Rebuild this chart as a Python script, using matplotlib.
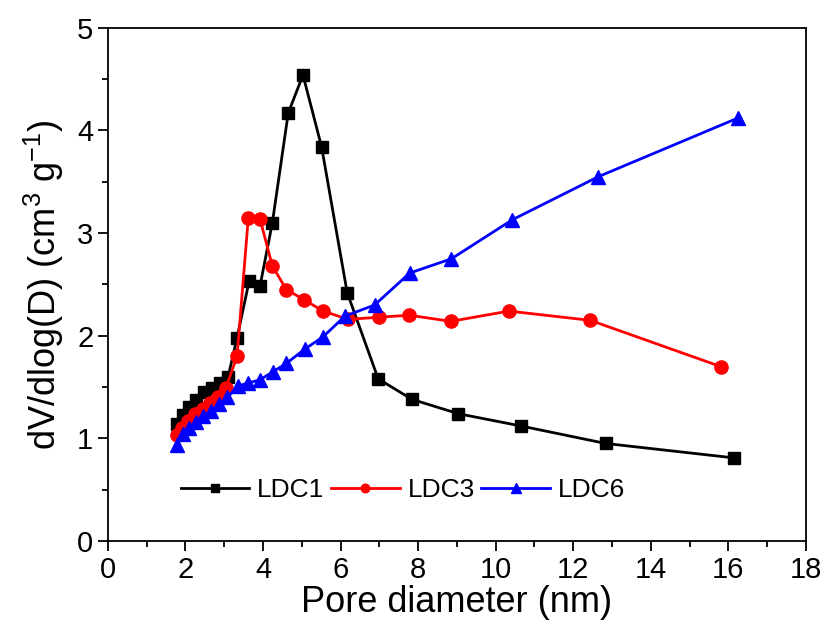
#!/usr/bin/env python

import matplotlib
matplotlib.use('Agg')
import matplotlib.pyplot as plt
from matplotlib.ticker import MultipleLocator

plt.rcParams['font.family'] = ['Liberation Sans', 'DejaVu Sans']
plt.rcParams['mathtext.fontset'] = 'custom'
plt.rcParams['mathtext.rm'] = 'Liberation Sans'

# LDC1 (black squares)
ldc1_x = [1.78, 1.93, 2.09, 2.28, 2.47, 2.68, 2.89, 3.10, 3.33, 3.64, 3.92, 4.24,
          4.65, 5.03, 5.51, 6.17, 6.97, 7.84, 9.04, 10.66, 12.84, 16.14]
ldc1_y = [1.14, 1.23, 1.31, 1.37, 1.45, 1.49, 1.54, 1.60, 1.98, 2.53, 2.48, 3.10,
          4.17, 4.54, 3.84, 2.42, 1.58, 1.38, 1.24, 1.12, 0.95, 0.81]

# LDC3 (red circles)
ldc3_x = [1.77, 1.92, 2.07, 2.25, 2.44, 2.63, 2.83, 3.04, 3.33, 3.62, 3.92, 4.24,
          4.60, 5.06, 5.55, 6.19, 7.00, 7.77, 8.84, 10.34, 12.44, 15.80]
ldc3_y = [1.03, 1.10, 1.17, 1.24, 1.29, 1.34, 1.40, 1.49, 1.80, 3.15, 3.14, 2.68,
          2.45, 2.35, 2.24, 2.16, 2.18, 2.20, 2.14, 2.24, 2.15, 1.70]

# LDC6 (blue triangles)
ldc6_x = [1.77, 1.93, 2.09, 2.27, 2.46, 2.66, 2.87, 3.08, 3.36, 3.62, 3.92, 4.26,
          4.60, 5.08, 5.55, 6.11, 6.88, 7.78, 8.86, 10.43, 12.65, 16.24]
ldc6_y = [0.94, 1.04, 1.10, 1.16, 1.22, 1.27, 1.33, 1.40, 1.51, 1.54, 1.57, 1.65,
          1.73, 1.87, 1.99, 2.19, 2.30, 2.61, 2.75, 3.13, 3.55, 4.12]

fs = 17


def main():
    fig = plt.figure(figsize=(8.24, 6.32), dpi=100)
    ax = fig.add_axes([0.131, 0.144, 0.847, 0.812])

    ax.plot(ldc1_x, ldc1_y, color='black', marker='s', markersize=8.5, lw=2, label='LDC1')
    ax.plot(ldc3_x, ldc3_y, color='#ff0000', marker='o', markersize=9.5, lw=2, label='LDC3')
    ax.plot(ldc6_x, ldc6_y, color='#0000ff', marker='^', markersize=10, lw=2, label='LDC6')

    ax.set_xlim(0, 18)
    ax.set_ylim(0, 5)
    ax.xaxis.set_major_locator(MultipleLocator(2))
    ax.xaxis.set_minor_locator(MultipleLocator(1))
    ax.yaxis.set_major_locator(MultipleLocator(1))
    ax.yaxis.set_minor_locator(MultipleLocator(0.5))
    ax.tick_params(which='both', direction='out', top=False, right=False,
                   labelsize=fs + 4, width=1.3)
    ax.tick_params(which='major', length=7)
    ax.tick_params(which='minor', length=4)
    for sp in ax.spines.values():
        sp.set_linewidth(1.3)

    ax.set_xlabel('Pore diameter (nm)', fontsize=fs + 9, labelpad=1)
    ax.set_ylabel(r'dV/dlog(D) (cm$^{3}$ g$^{-1}$)', fontsize=fs + 9, labelpad=8)

    ax.legend(loc='lower left', bbox_to_anchor=(0.07, 0.03), ncol=3, frameon=False,
              fontsize=fs + 2, markerscale=0.65, handlelength=2.6, columnspacing=0.25,
              handletextpad=0.3)

    fig.savefig('out.png', dpi=100)
    plt.close(fig)


if __name__ == "__main__":
    main()
